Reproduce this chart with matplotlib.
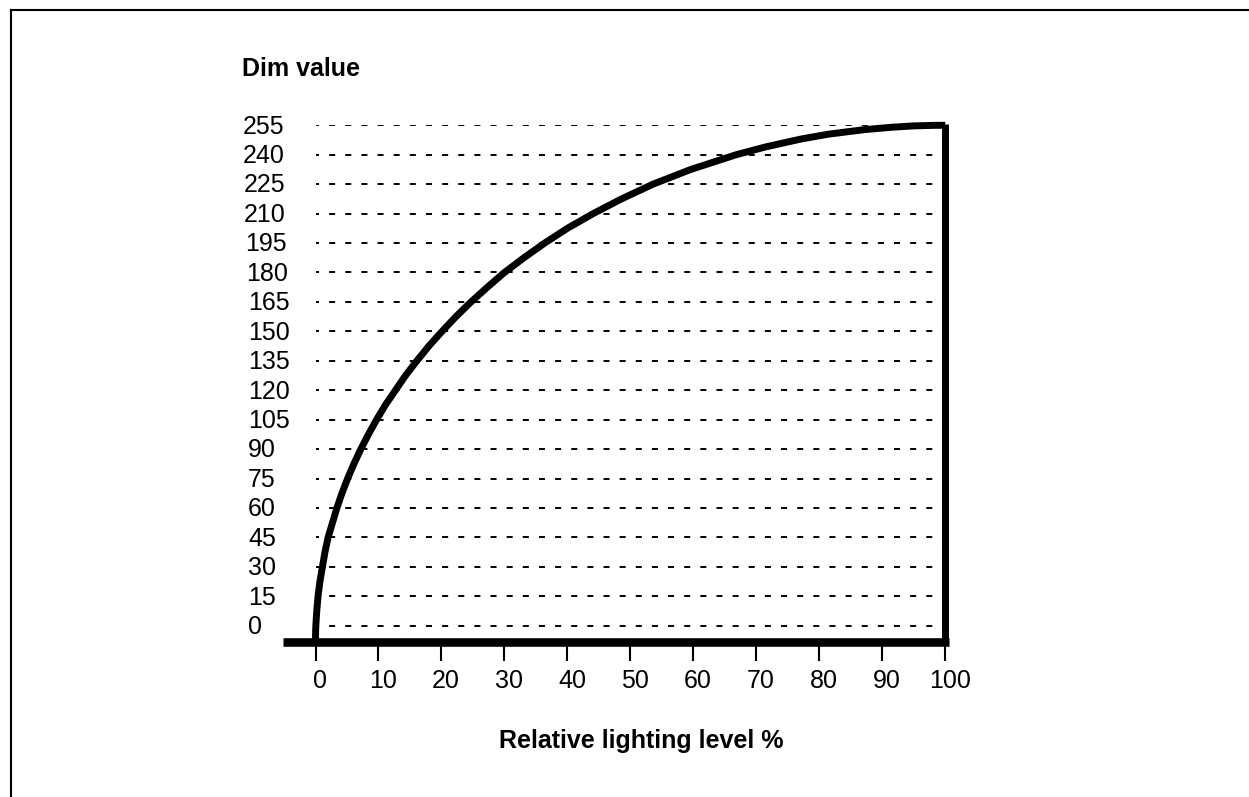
import matplotlib
matplotlib.use("Agg")
import matplotlib.pyplot as plt
from matplotlib.lines import Line2D
from matplotlib.transforms import ScaledTranslation

# ---- data ----
x_ticks = [0, 10, 20, 30, 40, 50, 60, 70, 80, 90, 100]
y_ticks = [0, 15, 30, 45, 60, 75, 90, 105, 120, 135, 150, 165, 180, 195, 210, 225, 240, 255]

# curve: relative lighting level (%) vs dim value
curve_dim = [-8.3, -4, 0, 7.5, 15, 22.5, 30, 37.5, 45, 52.5, 60, 67.5, 75, 82.5,
             90, 97.5, 105, 112.5, 120, 127.5, 135, 142.5, 150, 157.5, 165, 172.5,
             180, 187.5, 195, 202.5, 210, 217.5, 225, 232.5, 240, 244, 248, 250.5,
             252.8, 254, 254.7, 255, 255]
curve_level = [0.0, 0.01, 0.05, 0.2, 0.4, 0.7, 1.1, 1.5, 2.0, 2.7, 3.4, 4.2, 5.1, 6.1,
               7.2, 8.4, 9.7, 11.1, 12.7, 14.3, 16.1, 18.0, 20.1, 22.3, 24.7, 27.3,
               30.0, 33.1, 36.4, 40.0, 44.1, 48.6, 53.6, 59.6, 66.8, 71.5, 77.1, 81.5,
               87.2, 91.5, 95.0, 98.5, 100.0]

y_label = "Dim value"
x_label = "Relative lighting level %"

# ---- figure ----
W, H, DPI = 1249, 797, 100
plt.rcParams['font.family'] = ['Liberation Sans', 'DejaVu Sans']
fig = plt.figure(figsize=(W / DPI, H / DPI), dpi=DPI)
fig.patch.set_facecolor('white')

y_base = -8.3
left_px, right_px = 315.5, 945.2
top_px, bot_px = 125.3, 642.0
ax = fig.add_axes([left_px / W, (H - bot_px) / H,
                   (right_px - left_px) / W, (bot_px - top_px) / H])
ax.set_xlim(0, 100)
ax.set_ylim(y_base, 255)
for s in ax.spines.values():
    s.set_visible(False)
ax.set_facecolor('none')

# dotted grid lines
ax.hlines(y_ticks, -0.4, 100, colors='black', linewidth=1.4,
          linestyles=(0, (3.1, 5.2)), zorder=1)

# curve
ax.plot(curve_level, curve_dim, color='black', linewidth=5,
        solid_capstyle='butt', solid_joinstyle='round', clip_on=False, zorder=3)

# baseline and right vertical boundary
ax.plot([-5.2, 100.6], [y_base, y_base], color='black', linewidth=6.2,
        solid_capstyle='butt', clip_on=False, zorder=4)
ax.plot([100, 100], [y_base, 255.8], color='black', linewidth=5,
        solid_capstyle='butt', clip_on=False, zorder=4)

# ticks
ax.set_xticks(x_ticks)
ax.set_xticklabels([str(v) for v in x_ticks])
ax.tick_params(axis='x', direction='out', length=13.7, width=1.5, pad=5.5,
               labelsize=18, colors='black')
off = ScaledTranslation(4.5 / DPI, 0, fig.dpi_scale_trans)
for lab in ax.get_xticklabels():
    lab.set_transform(lab.get_transform() + off)

ax.set_yticks(y_ticks)
ax.set_yticklabels([str(v) for v in y_ticks])
ax.tick_params(axis='y', length=0, pad=(left_px - 248) * 0.72, labelsize=18)
# small leftward shift of the upper labels, as in the reference
y_label_dx = {255: -5.3, 240: -5.5, 225: -4.3, 210: -4.0, 195: -3.0, 180: -2.0}
for v, lab in zip(y_ticks, ax.get_yticklabels()):
    lab.set_horizontalalignment('left')
    dx = y_label_dx.get(v, 0.0)
    lab.set_transform(lab.get_transform() +
                      ScaledTranslation(dx / DPI, 1.2 / DPI, fig.dpi_scale_trans))

# titles
fig.text(242 / W, 1 - 69 / H, y_label, fontsize=18, fontweight='bold',
         ha='left', va='center')
fig.text(641 / W, 1 - 741 / H, x_label, fontsize=18, fontweight='bold',
         ha='center', va='center')

# page border (left and top edges)
fig.add_artist(Line2D([10.5 / W, 10.5 / W], [0, 1 - 9.5 / H], transform=fig.transFigure,
                      color='black', linewidth=1.5))
fig.add_artist(Line2D([10.5 / W, 1], [1 - 9.5 / H, 1 - 9.5 / H], transform=fig.transFigure,
                      color='black', linewidth=1.5))

fig.savefig('out.png', dpi=DPI)
